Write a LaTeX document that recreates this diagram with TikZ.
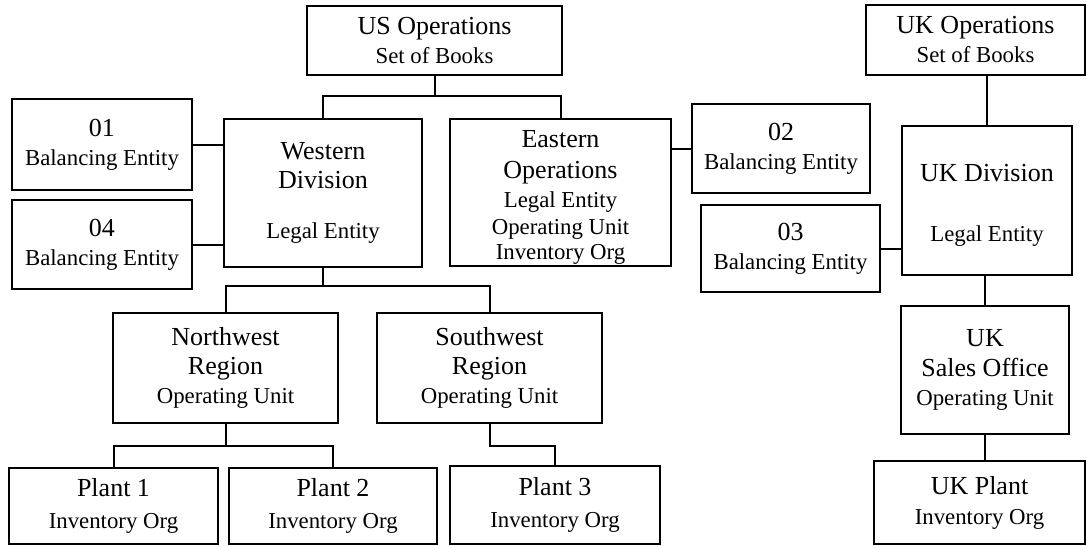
\documentclass[tikz,border=0pt]{standalone}
\usepackage{fontspec}
\setmainfont{Liberation Serif}
\newcommand\Lg{\fontsize{26}{29}\selectfont}
\newcommand\Sm{\fontsize{22.8}{29}\selectfont}
\tikzset{
  box/.style={draw=black, line width=2pt, rectangle, inner sep=0pt, align=center, font=\Sm},
  conn/.style={draw=black, line width=2pt}
}
\begin{document}
\begin{tikzpicture}[x=1pt,y=-1pt]
\fill[white] (0,0) rectangle (1087,546);
\useasboundingbox (0,0) rectangle (1087,546);
% US side
\node[box, minimum width=255pt, minimum height=69pt] (US) at (434.5,40.5) {{\Lg US Operations}\\Set of Books};
\node[box, minimum width=180pt, minimum height=91pt] (B01) at (102,144.5) {{\Lg 01}\\Balancing Entity};
\node[box, minimum width=180pt, minimum height=89pt] (B04) at (102,244.5) {{\Lg 04}\\Balancing Entity};
\node[box, minimum width=198pt, minimum height=148pt] (West) at (323,193) {{\Lg Western}\\{\Lg Division}\\[21pt]Legal Entity};
\node[box, minimum width=221pt, minimum height=147pt] (East) at (560.5,192.5) {\mbox{}\\[-2pt]{\Lg Eastern}\\[2pt]{\Lg Operations}\\Legal Entity\\[-2pt]Operating Unit\\[-4pt]Inventory Org};
\node[box, minimum width=178pt, minimum height=89pt] (B02) at (781,148.5) {{\Lg 02}\\Balancing Entity};
\node[box, minimum width=225pt, minimum height=110pt] (NW) at (225.5,368) {{\Lg Northwest}\\{\Lg Region}\\Operating Unit};
\node[box, minimum width=225pt, minimum height=110pt] (SW) at (489.5,368) {{\Lg Southwest}\\{\Lg Region}\\Operating Unit};
\node[box, minimum width=209pt, minimum height=76pt] (P1) at (113.5,506) {{\Lg Plant 1}\\[3pt]Inventory Org};
\node[box, minimum width=208pt, minimum height=76pt] (P2) at (333,506) {{\Lg Plant 2}\\[3pt]Inventory Org};
\node[box, minimum width=210pt, minimum height=78pt] (P3) at (555,505) {{\Lg Plant 3}\\[3pt]Inventory Org};
% UK side
\node[box, minimum width=219pt, minimum height=70pt] (UKops) at (975.5,40) {{\Lg UK Operations}\\Set of Books};
\node[box, minimum width=179pt, minimum height=87pt] (B03) at (790.5,248.5) {{\Lg 03}\\Balancing Entity};
\node[box, minimum width=170pt, minimum height=149pt] (UKDiv) at (987,200.5) {\mbox{}\\[-2pt]{\Lg UK Division}\\[31pt]Legal Entity};
\node[box, minimum width=168pt, minimum height=128pt] (UKSales) at (985,370) {{\Lg UK}\\[1pt]{\Lg Sales Office}\\Operating Unit};
\node[box, minimum width=211pt, minimum height=83pt] (UKPlant) at (979.5,502.5) {{\Lg UK Plant}\\[1pt]Inventory Org};
% connectors US
\draw[conn] (US.south) -- (US.south |- 0,96);
\draw[conn] (West.north) |- (East.north |- 0,96) -- (East.north);
\draw[conn] (B01.east) -- (West.west |- B01.east);
\draw[conn] (B04.east) -- (West.west |- B04.east);
\draw[conn] (East.east |- B02.west) -- (B02.west);
\draw[conn] (West.south) -- (West.south |- 0,286);
\draw[conn] (NW.north) |- (SW.north |- 0,286) -- (SW.north);
\draw[conn] (NW.south) -- (NW.south |- 0,446);
\draw[conn] (P1.north) |- (P2.north |- 0,446) -- (P2.north);
\draw[conn] (SW.south) |- (P3.north |- 0,446) -- (P3.north);
% connectors UK
\draw[conn] (UKDiv.north |- UKops.south) -- (UKDiv.north);
\draw[conn] (B03.east) -- (UKDiv.west |- B03.east);
\draw[conn] (UKSales.north |- UKDiv.south) -- (UKSales.north);
\draw[conn] (UKSales.south) -- (UKSales.south |- UKPlant.north);
\end{tikzpicture}
\end{document}
